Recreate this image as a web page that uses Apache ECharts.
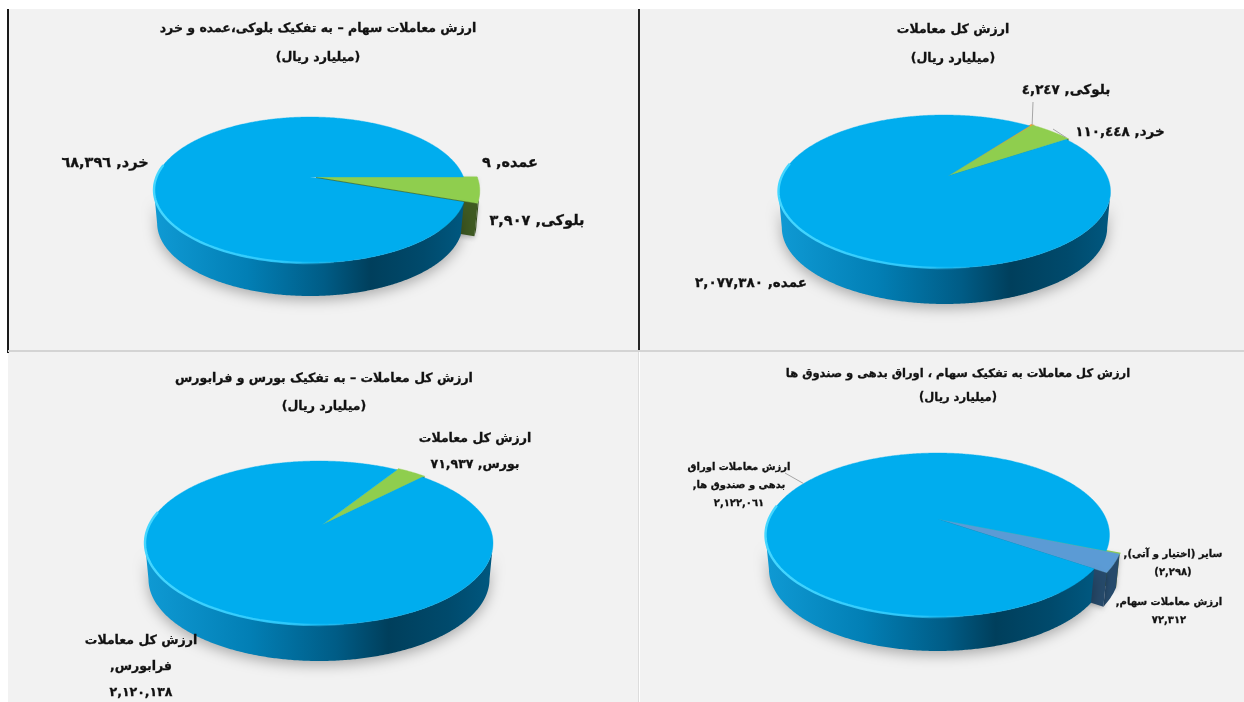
<!DOCTYPE html>
<html dir="rtl">
<head>
<meta charset="utf-8">
<style>html,body{margin:0;padding:0;background:#fff}#c{width:1244px;height:702px}#c canvas{filter:blur(0.35px)}</style>
<script src="https://cdn.jsdelivr.net/npm/echarts@6/dist/echarts.min.js"></script>
</head>
<body>
<div id="c"></div>
<script>
// ---- data ----
const namesBlock = ['عمده', 'بلوکی', 'خرد'];
const valuesBlock = [9, 3907, 68396];
const namesTotal = ['بلوکی', 'خرد', 'عمده'];
const valuesTotal = [4247, 110448, 2077380];
const namesMarket = ['ارزش کل معاملات\nبورس', 'ارزش کل معاملات\nفرابورس'];
const valuesMarket = [71937, 2120138];
const namesAsset = ['سایر (اختیار و آتی)', 'ارزش معاملات سهام', 'ارزش معاملات اوراق\nبدهی و صندوق ها'];
const valuesAsset = [2298, 72312, 2122061];
const titleBlock = 'ارزش معاملات سهام – به تفکیک بلوکی،عمده و خرد';
const titleTotal = 'ارزش کل معاملات';
const titleMarket = 'ارزش کل معاملات – به تفکیک بورس و فرابورس';
const titleAsset = 'ارزش کل معاملات به تفکیک سهام ، اوراق بدهی و صندوق ها';
const unitText = '(میلیارد ریال)';

// ---- layout and styles ----
const FONT = '"DejaVu Sans"';
const BLUE = '#00ADEE', GREEN = '#8FCE4E', GREEN_D = '#3F5A22', ORANGE = '#F0A030';
const pies = [
  { names: namesBlock, values: valuesBlock, title: titleBlock, tx: 318, ty: 22, tSize: 12.5, subGap: 16,
    cx: 310, ax: 0, cy: 177, rx: 156, far: 60, near: 86, depth: 33, start: 90, font: 14.5, lh: 20,
    slices: [
      { top: GREEN, side: GREEN_D, ex: [6, 0], grow: 1.05, pos: [510, 163], tpl: '{n}, {v}' },
      { top: GREEN, side: GREEN_D, ex: [6, 0], grow: 1.05, pos: [537, 221], tpl: '{n}, {v}' },
      { top: BLUE, pos: [105, 163], tpl: '{n}, {v}' }] },
  { names: namesTotal, values: valuesTotal, title: titleTotal, tx: 953, ty: 23, tSize: 12.5, subGap: 16,
    cx: 944.5, ax: 3.5, cy: 176, rx: 166, far: 61, near: 92, depth: 36, start: 37.5, font: 13.5, lh: 20,
    slices: [
      { top: ORANGE, side: '#8a5526', grow: 1.02, edge: 1.6, pos: [1066, 90], tpl: '{n}, {v}', lead: [1033, 102], anchor: 0.5 },
      { top: GREEN, side: GREEN_D, grow: 1.02, pos: [1120, 132], tpl: '{n}, {v}', lead: [1053, 129], anchor: 0.93 },
      { top: BLUE, pos: [751, 283], tpl: '{n}, {v}' }] },
  { names: namesMarket, values: valuesMarket, title: titleMarket, tx: 324, ty: 372, tSize: 12.5, subGap: 15,
    cx: 319, ax: 3, cy: 525, rx: 174, far: 64, near: 100, depth: 36, start: 33, font: 12.5, lh: 26,
    slices: [
      { top: GREEN, side: GREEN_D, grow: 1.02, pos: [475, 452], tpl: '{n}, {v}' },
      { top: BLUE, pos: [141, 667], tpl: '{n},\n{v}' }] },
  { names: namesAsset, values: valuesAsset, title: titleAsset, tx: 958, ty: 368, tSize: 11.5, subGap: 12,
    cx: 937.5, ax: 0, cy: 519, rx: 172, far: 66, near: 98, depth: 34, start: 112, font: 10, lh: 18,
    slices: [
      { top: GREEN, side: '#3F5A22', ex: [0.5, 0], grow: 1.077, edge: 1.4, pos: [1173, 563], tpl: '{n},\n({v})' },
      { top: '#5B9BD5', side: '#264A6B', ex: [0.5, 0], grow: 1.077, pos: [1169, 611], tpl: '{n},\n{v}' },
      { top: BLUE, pos: [739, 485], tpl: '{n},\n{v}', lead: [785, 473], anchor: 0.504 }] }
];

const persian = n => n.toLocaleString('en-US').replace(/\d/g, d => '٠١٢٣٤٥٦٧٨٩'[d]);
const wallFill = () => new echarts.graphic.LinearGradient(0, 0, 1, 0, [
  { offset: 0, color: '#0F9AD4' }, { offset: 0.3, color: '#027FB5' },
  { offset: 0.55, color: '#005C86' }, { offset: 0.7, color: '#003F5C' },
  { offset: 0.87, color: '#004A6C' }, { offset: 1, color: '#005880' }]);
const rimStroke = () => new echarts.graphic.LinearGradient(0, 0, 1, 0, [
  { offset: 0, color: 'rgba(70,215,255,1)' }, { offset: 0.7, color: 'rgba(50,205,255,0.85)' },
  { offset: 1, color: 'rgba(50,205,255,0)' }]);

function makeRender(p) {
  const total = p.values.reduce((s, v) => s + v, 0);
  const k = (p.near - p.far) / (p.near + p.far);
  const b = p.far * (1 + k);
  const a = p.rx * Math.sqrt(1 - k * k);
  const frontFrom = Math.acos(-k) * 180 / Math.PI, frontTo = 360 - frontFrom;
  const apex0 = [p.cx + p.ax, p.cy];
  // perspective projection of a rim point; deg clockwise from 12 o'clock.
  // g scales the slice about the apex, (ox, oy) moves it out of the pie.
  const project = (deg, ox, oy, g) => {
    const t = deg * Math.PI / 180, w = 1 + k * Math.cos(t);
    const rx = p.cx + a * Math.sin(t) / w, ry = p.cy - b * Math.cos(t) / w;
    return [apex0[0] + ox + g * (rx - apex0[0]), apex0[1] + oy + g * (ry - apex0[1])];
  };
  const down = (pt, ox) => [p.cx + ox + (pt[0] - p.cx - ox) * 0.98, pt[1] + p.depth];
  return function (params, api) {
    const i = params.dataIndex, s = p.slices[i], value = api.value(0);
    const before = p.values.slice(0, i).reduce((acc, v) => acc + v, 0);
    const d0 = p.start + before / total * 360;
    const d1 = d0 + value / total * 360;
    const [ox, oy] = s.ex || [0, 0];
    const g = s.grow || 1;
    const arc = [], front = [], n = Math.max(4, Math.ceil((d1 - d0) * 2));
    for (let j = 0; j <= n; j++) {
      const deg = d0 + (d1 - d0) * j / n, pt = project(deg, ox, oy, g);
      arc.push(pt);
      if (deg >= frontFrom && deg <= frontTo) front.push(pt);
    }
    const apex = [apex0[0] + ox, apex0[1] + oy];
    const big = i === p.slices.length - 1;
    const children = [];
    if (front.length > 1) {
      children.push({
        type: 'polygon', shape: { points: front.concat(front.map(q => down(q, ox)).reverse()) },
        style: big
          ? { fill: wallFill(), shadowBlur: 14, shadowColor: 'rgba(0,0,0,0.3)', shadowOffsetY: 4 }
          : { fill: s.side }
      });
    }
    if (!big) {
      const tip = arc[arc.length - 1];
      children.push({
        type: 'polygon',
        shape: { points: [apex, tip, down(tip, ox), down(apex, ox)] },
        style: { fill: s.side, shadowBlur: 5, shadowColor: 'rgba(0,0,0,0.25)', shadowOffsetY: 2 }
      });
    }
    children.push({ type: 'polygon', shape: { points: [apex].concat(arc) }, style: { fill: s.top, stroke: s.top, lineWidth: s.edge || 0.4 } });
    if (big) {
      const rim = [];
      for (let deg = 280; deg >= 172; deg -= 2) rim.push(project(deg, 0, 0, 1));
      children.push({ type: 'polyline', shape: { points: rim }, style: { fill: null, stroke: rimStroke(), lineWidth: 2.4 } });
    }
    if (s.lead) {
      const at = project(d0 + (d1 - d0) * s.anchor, ox, oy, g);
      children.push({ type: 'polyline', z2: 5, shape: { points: [s.lead, at] }, style: { fill: null, stroke: '#A6A6A6', lineWidth: 1 } });
    }
    children.push({
      type: 'text', z2: 10,
      style: {
        text: s.tpl.replace('{n}', p.names[i]).replace('{v}', persian(value)),
        x: s.pos[0], y: s.pos[1], fill: '#111', stroke: '#111', lineWidth: 0.3, align: 'center', verticalAlign: 'middle',
        fontFamily: FONT, fontWeight: 'bold', fontSize: p.font, lineHeight: p.lh
      }
    });
    return { type: 'group', children };
  };
}

const panel = (x, y, width, height, fill) => ({ type: 'rect', z: -10, silent: true, shape: { x, y, width, height }, style: { fill } });

const chart = echarts.init(document.getElementById('c'), null, { renderer: 'canvas', width: 1244, height: 702 });
chart.setOption({
  animation: false,
  backgroundColor: '#ffffff',
  graphic: [
    panel(8, 9, 630, 341, '#F2F2F2'), panel(640, 9, 604, 341, '#F1F1F1'),
    panel(8, 352, 630, 350, '#F2F2F2'), panel(640, 352, 604, 350, '#F2F2F2'),
    panel(7, 9, 2, 344, '#1A1A1A'), panel(638, 9, 2, 342, '#262626'),
    panel(8, 350, 1236, 2, '#D4D4D4'), panel(638, 352, 1, 350, '#DDDDDD')
  ],
  title: pies.map(p => ({
    text: p.title, subtext: unitText, left: p.tx, top: p.ty, textAlign: 'center', itemGap: p.subGap, padding: 0,
    textStyle: { fontFamily: FONT, fontWeight: 'bold', fontSize: p.tSize, color: '#111', textBorderColor: '#111', textBorderWidth: 0.3 },
    subtextStyle: { fontFamily: FONT, fontWeight: 'bold', fontSize: p.tSize, color: '#111', textBorderColor: '#111', textBorderWidth: 0.3 }
  })),
  series: pies.map(p => ({
    type: 'custom', coordinateSystem: 'none', silent: true,
    data: p.values.map((v, i) => ({ name: p.names[i], value: [v] })),
    renderItem: makeRender(p)
  }))
});
</script>
</body>
</html>
